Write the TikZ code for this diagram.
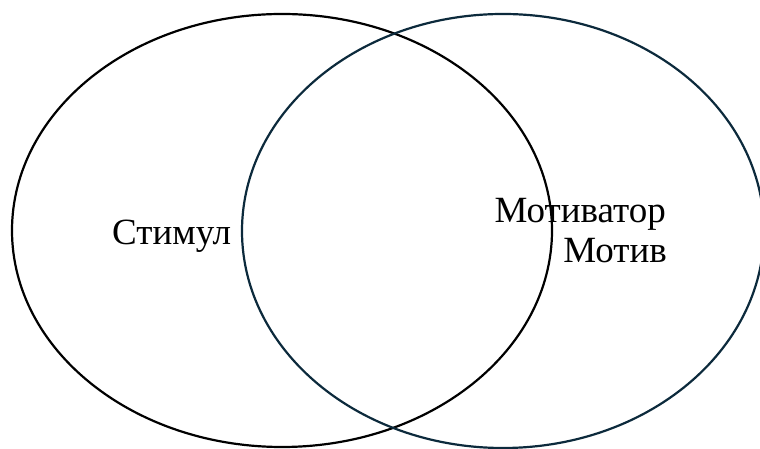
\documentclass[tikz,border=0pt]{standalone}
\usepackage{fontspec}
\setmainfont{Liberation Serif}
\usetikzlibrary{shapes.geometric}
\definecolor{ringblue}{RGB}{12,42,60}

\begin{document}
\begin{tikzpicture}[
    x=1pt, y=1pt,
    set node/.style={ellipse, inner sep=0pt, line width=2.2pt},
    word node/.style={inner sep=0pt, font=\fontsize{37}{40}\selectfont}
]
    \clip (0,0) rectangle (760,449);
    \useasboundingbox (0,0) rectangle (760,449);

    % Sets
    \node[set node, draw=black, minimum width=540pt, minimum height=433pt] (stimul) at (282,218.5) {};
    \node[set node, draw=ringblue, minimum width=522pt, minimum height=434pt] (motiv) at (503,218) {};

    % Labels
    \node[word node, anchor=base west] (stimulText) at (112,204) {Стимул};
    \node[word node, anchor=base east] (motivatorText) at (666,226) {Мотиватор};
    \node[word node, anchor=base east] (motivText) at (667,186) {Мотив};
\end{tikzpicture}
\end{document}
